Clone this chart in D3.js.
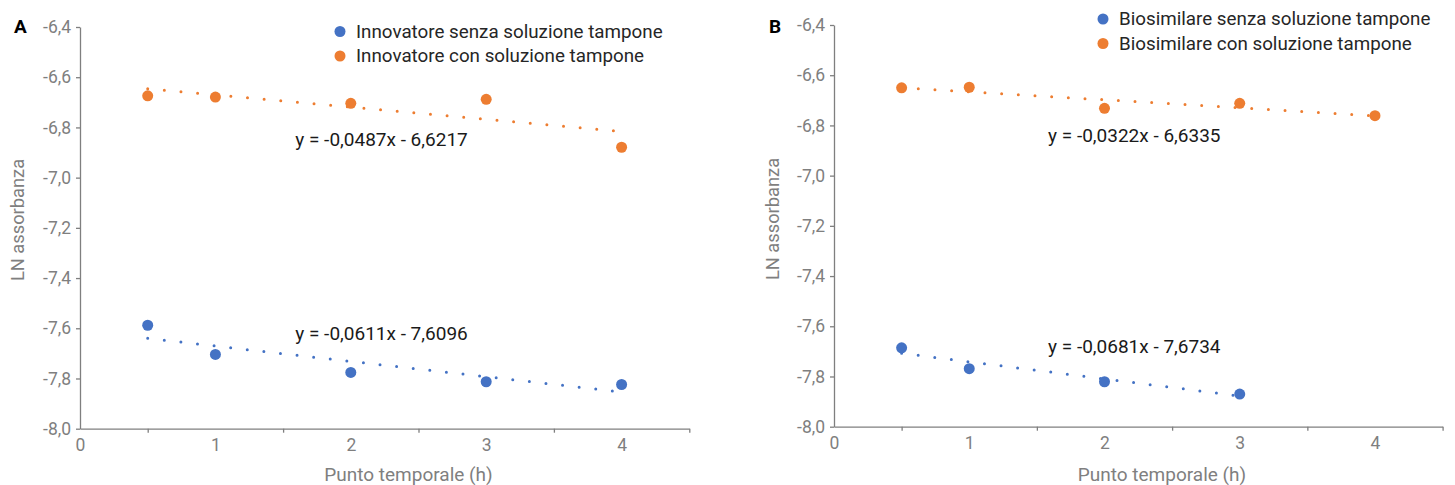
<!DOCTYPE html>
<html>
<head>
<meta charset="utf-8">
<script src="https://cdn.jsdelivr.net/npm/d3@7"></script>
<style>
  body { margin: 0; background: #fff; }
  svg { font-family: Roboto, "Noto Sans", sans-serif; }
</style>
</head>
<body>
<svg id="chart" width="1455" height="485"></svg>
<script>
// data
const timePoints = [0.5, 1, 2, 3, 4];
const timePointsBioSenza = [0.5, 1, 2, 3];

const innovatoreSenza = [-7.588, -7.704, -7.776, -7.813, -7.824];
const innovatoreCon = [-6.674, -6.679, -6.704, -6.688, -6.879];
const biosimilareSenza = [-7.686, -7.769, -7.821, -7.870];
const biosimilareCon = [-6.650, -6.648, -6.732, -6.712, -6.761];

// trendline coefficients as printed on the chart [slope, intercept]
const trendInnovatoreSenza = [-0.0611, -7.6096];
const trendInnovatoreCon = [-0.0487, -6.6217];
const trendBiosimilareSenza = [-0.0681, -7.6734];
const trendBiosimilareCon = [-0.0322, -6.6335];

const yTicks = [-6.4, -6.6, -6.8, -7.0, -7.2, -7.4, -7.6, -7.8, -8.0];
const xTicks = [0, 1, 2, 3, 4];
const xMinorTicks = [0.5, 1.5, 2.5, 3.5, 4.5];

const BLUE = '#4472c4';
const ORANGE = '#ed7d31';
const GREY = '#7f7f7f';

const it = d3.formatLocale({ decimal: ',', thousands: '.', grouping: [3], currency: ['', '€'], minus: '-' });
const fmt1 = it.format('.1f');
const fmt4 = it.format('.4f');

const svg = d3.select('#chart');

function drawPanel(p) {
  const x = d3.scaleLinear().domain([0, 4.5]).range(p.xRange);
  const y = d3.scaleLinear().domain([-8.0, -6.4]).range(p.yRange);
  const g = svg.append('g');

  // y axis
  const ya = g.append('g')
    .attr('transform', 'translate(' + p.xRange[0] + ',0)')
    .call(d3.axisLeft(y).tickValues(yTicks).tickFormat(fmt1).tickSize(4).tickSizeOuter(0).tickPadding(5));
  // x axis (labels only)
  const xa = g.append('g')
    .attr('transform', 'translate(0,' + p.yRange[0] + ')')
    .call(d3.axisBottom(x).tickValues(xTicks).tickFormat(d3.format('d')).tickSize(0).tickSizeOuter(0).tickPadding(10));
  // x axis tick marks in between
  const xm = g.append('g')
    .attr('transform', 'translate(0,' + p.yRange[0] + ')')
    .call(d3.axisBottom(x).tickValues(xMinorTicks).tickFormat('').tickSize(4));
  xm.select('.domain').remove();

  [ya, xa, xm].forEach(a => {
    a.selectAll('.domain').attr('stroke', GREY).attr('stroke-width', 1.3);
    a.selectAll('line').attr('stroke', GREY).attr('stroke-width', 1.3);
    a.selectAll('text').attr('fill', GREY).style('font-size', '17.5px').style('font-family', 'Roboto');
  });

  // axis titles
  g.append('text')
    .attr('transform', 'translate(' + p.yTitle[0] + ',' + p.yTitle[1] + ') rotate(-90)')
    .attr('text-anchor', 'middle')
    .attr('dominant-baseline', 'central')
    .attr('fill', GREY)
    .style('font-size', '18.3px')
    .text('LN assorbanza');
  g.append('text')
    .attr('x', p.xTitle[0]).attr('y', p.xTitle[1])
    .attr('text-anchor', 'middle')
    .attr('fill', GREY)
    .style('font-size', '19px')
    .text('Punto temporale (h)');

  // panel letter
  g.append('text')
    .attr('x', p.letterPos[0]).attr('y', p.letterPos[1])
    .attr('font-weight', 'bold')
    .attr('fill', '#000')
    .style('font-size', '19px')
    .text(p.letter);

  p.series.forEach(s => {
    const pts = s.xs.map((t, i) => [t, s.values[i]]);
    g.append('g').selectAll('circle')
      .data(pts)
      .enter()
      .append('circle')
        .attr('cx', d => x(d[0]))
        .attr('cy', d => y(d[1]))
        .attr('r', 5.5)
        .attr('fill', s.color);

    // dotted linear trendline over the data range
    const x0 = d3.min(s.xs), x1 = d3.max(s.xs);
    const f = t => s.trend[0] * t + s.trend[1];
    g.append('path')
      .attr('d', d3.line()([[x(x0), y(f(x0))], [x(x1), y(f(x1))]]))
      .attr('stroke', s.color)
      .attr('stroke-width', 3)
      .attr('stroke-linecap', 'round')
      .attr('stroke-dasharray', '0 16.7')
      .attr('fill', 'none');

    // equation
    g.append('text')
      .attr('x', x(s.eqPos[0])).attr('y', y(s.eqPos[1]))
      .attr('fill', '#1a1a1a')
      .style('font-size', '19px')
      .text('y = ' + fmt4(s.trend[0]) + 'x - ' + fmt4(-s.trend[1]));
  });

  // legend
  p.series.forEach((s, i) => {
    const ly = p.legendPos[1] + i * 24.5;
    g.append('circle')
      .attr('cx', p.legendPos[0]).attr('cy', ly).attr('r', 5.5).attr('fill', s.color);
    g.append('text')
      .attr('x', p.legendPos[0] + 16).attr('y', ly)
      .attr('dominant-baseline', 'central')
      .attr('fill', '#262626')
      .style('font-size', '18.8px')
      .text(s.name);
  });
}

drawPanel({
  letter: 'A',
  letterPos: [14, 33],
  xRange: [80, 689.3],
  yRange: [428.7, 27],
  yTitle: [17, 220],
  xTitle: [408.5, 480.5],
  legendPos: [340, 31.5],
  series: [
    { name: 'Innovatore senza soluzione tampone', color: BLUE, xs: timePoints, values: innovatoreSenza, trend: trendInnovatoreSenza, eqPos: [1.59, -7.645] },
    { name: 'Innovatore con soluzione tampone', color: ORANGE, xs: timePoints, values: innovatoreCon, trend: trendInnovatoreCon, eqPos: [1.59, -6.872] }
  ]
});

drawPanel({
  letter: 'B',
  letterPos: [769, 33],
  xRange: [834, 1442.6],
  yRange: [426.7, 25],
  yTitle: [772, 219],
  xTitle: [1162, 480.5],
  legendPos: [1103, 19],
  series: [
    { name: 'Biosimilare senza soluzione tampone', color: BLUE, xs: timePointsBioSenza, values: biosimilareSenza, trend: trendBiosimilareSenza, eqPos: [1.583, -7.707] },
    { name: 'Biosimilare con soluzione tampone', color: ORANGE, xs: timePoints, values: biosimilareCon, trend: trendBiosimilareCon, eqPos: [1.583, -6.866] }
  ]
});
</script>
</body>
</html>
